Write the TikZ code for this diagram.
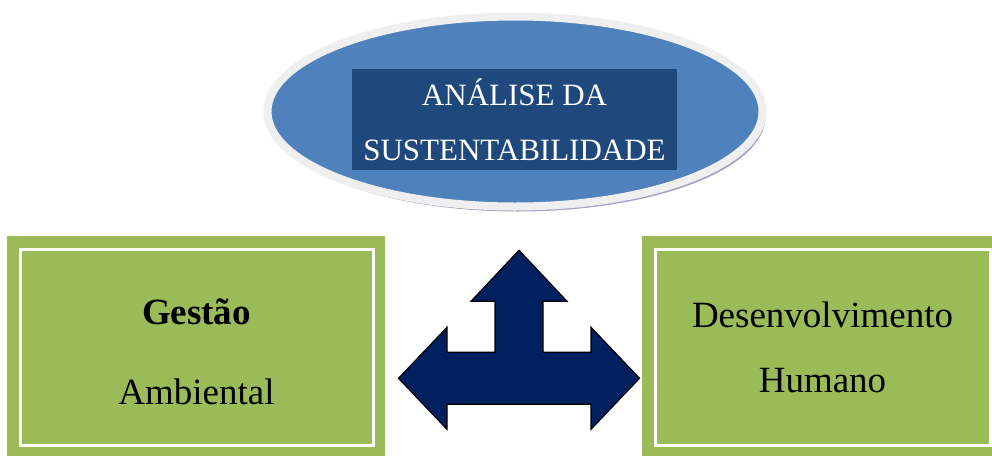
\documentclass[tikz,border=0pt]{standalone}
\usepackage{fontspec}
\setmainfont{Liberation Serif}
\usetikzlibrary{positioning,shapes.geometric,shadows,backgrounds}
\definecolor{verde}{HTML}{9BBB59}
\definecolor{azul}{HTML}{4F81BD}
\definecolor{azulescuro}{HTML}{1F497D}
\definecolor{marinho}{HTML}{002060}
\definecolor{aro}{HTML}{EFEFEF}
\tikzset{
  caixa/.style={rectangle, fill=verde, draw=white, line width=3pt, align=center,
    minimum width=353pt, minimum height=196pt, inner sep=0pt,
    font=\fontsize{37}{80}\selectfont},
  seta/.style={fill=marinho, draw=black, line width=1.2pt, line join=miter}
}
\begin{document}
\begin{tikzpicture}[x=1pt, y=-1pt]
\useasboundingbox (0,0) rectangle (992,455);

 \node (analise) [ellipse, fill=azul, draw=aro, line width=8pt,
   minimum width=495pt, minimum height=190pt,
   drop shadow={shadow xshift=3pt, shadow yshift=-5pt, fill=gray!80!blue, opacity=.6}]
   at (515,111.5) {};
 \node (titulo) [rectangle, fill=azulescuro, text=white, align=center,
   minimum width=325pt, minimum height=101pt, inner sep=0pt,
   font=\fontsize{31}{55}\selectfont] at (514.5,119.5)
   {ANÁLISE DA\\SUSTENTABILIDADE};

 \node (gestao) [caixa] at (196.5,347) {\rule{0pt}{36pt}\textbf{Gestão}\\Ambiental};
 \node (desenv) [caixa, font=\fontsize{37}{65}\selectfont,
   minimum width=335pt] at (822.5,347) {Desenvolvimento\\Humano};

 % moldura verde por fora
 \begin{scope}[on background layer]
  \fill[verde] ([shift={(-12pt,12pt)}]gestao.north west) rectangle ([shift={(10pt,-12pt)}]gestao.south east);
  \fill[verde] ([shift={(-12pt,12pt)}]desenv.north west) rectangle ([shift={(12pt,-12pt)}]desenv.south east);
 \end{scope}

 % seta de tres pontas
 \coordinate (centro) at (519,378.3);
 \begin{scope}[shift={(centro)}]
  \draw[seta] (0,-128) -- (48,-77) -- (24,-77) -- (24,-26) -- (72,-26) -- (72,-51)
   -- (120.5,0) -- (72,51) -- (72,26) -- (-72,26) -- (-72,51) -- (-120.5,0)
   -- (-72,-51) -- (-72,-26) -- (-24,-26) -- (-24,-77) -- (-48,-77) -- cycle;
 \end{scope}
\end{tikzpicture}
\end{document}
